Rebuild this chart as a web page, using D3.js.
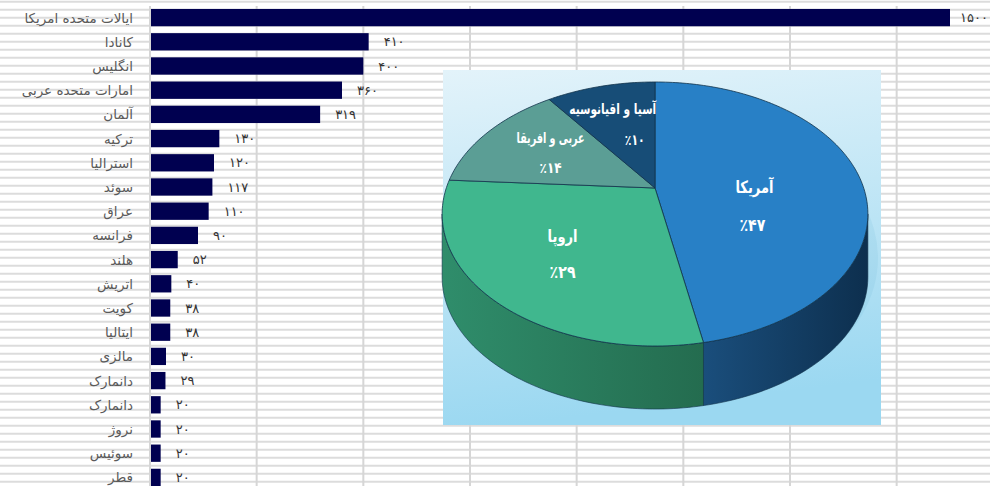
<!DOCTYPE html>
<html><head><meta charset="utf-8">
<script src="https://cdn.jsdelivr.net/npm/d3@7"></script>
<style>
html,body{margin:0;padding:0;background:#fff;}
svg{display:block;}
</style></head>
<body>
<svg id="c" width="990" height="486"></svg>
<script>
// ---- data ----
const countries = ["ایالات متحده امریکا","کانادا","انگلیس","امارات متحده عربی","آلمان","ترکیه","استرالیا","سوئد","عراق","فرانسه","هلند","اتریش","کویت","ایتالیا","مالزی","دانمارک","دانمارک","نروژ","سوئیس","قطر"];
const counts = [1500,410,400,360,319,130,120,117,110,90,52,40,38,38,30,29,20,20,20,20];
const gridTicks = [0,200,400,600,800,1000,1200,1400];
const regions = ["آمریکا","اروپا","عربی و افریقا","آسیا و اقیانوسیه"];
const regionShares = [47,29,14,10];
const regionTop = ["#2880c6","#40b78e","#5b9e95","#174d77"];
const regionSideA = ["#1a4e7c","#2f8d6b","#4a8780","#123e62"];
const regionSideB = ["#0d2f4e","#246c4f","#3b6f69","#0d2f4e"];

const faDigits = s => String(s).replace(/\d/g, d => "۰۱۲۳۴۵۶۷۸۹"[d]);

const W = 990, H = 486;
const svg = d3.select("#c");

const x = d3.scaleLinear().domain([0,1500]).range([150,950]);
const y = d3.scaleBand().domain(d3.range(countries.length)).range([5.5, 489.5]).paddingInner(0.285).paddingOuter(0.1425);

// spreadsheet background lines
svg.append("g").selectAll("line").data(d3.range(1.7, H, 8)).join("line")
  .attr("x1",0).attr("x2",W).attr("y1",d=>d).attr("y2",d=>d)
  .attr("stroke","#dcdcdc").attr("stroke-width",2);
svg.append("g").selectAll("line").data(gridTicks).join("line")
  .attr("x1",d=>x(d)).attr("x2",d=>x(d)).attr("y1",6).attr("y2",H)
  .attr("stroke","#d6d6d6").attr("stroke-width",2);

// bars
svg.append("g").selectAll("rect").data(counts).join("rect")
  .attr("x", x(0)+1).attr("y",(d,i)=>y(i))
  .attr("width", d=>x(d)-x(0)-1).attr("height", y.bandwidth())
  .attr("fill","#000050");

// country labels
svg.append("g").selectAll("text").data(countries).join("text")
  .attr("x",133).attr("y",(d,i)=>y(i)+y.bandwidth()/2)
  .attr("text-anchor","end").attr("dominant-baseline","central")
  .style("font-family","'DejaVu Sans'").style("font-size","13.5px").attr("fill","#5a5a5a")
  .text(d=>d);

// value labels
svg.append("g").selectAll("text").data(counts).join("text")
  .attr("x",d=>x(d)+ (d>=1500?10:15)).attr("y",(d,i)=>y(i)+y.bandwidth()/2)
  .attr("text-anchor","start").attr("dominant-baseline","central")
  .style("font-family","'DejaVu Sans'").style("font-size","13px").attr("fill","#333")
  .text(d=>faDigits(d));

// ---- pie panel ----
const defs = svg.append("defs");
const bg = defs.append("linearGradient").attr("id","panelbg").attr("x1",0).attr("y1",0).attr("x2",0.15).attr("y2",1);
bg.append("stop").attr("offset","0").attr("stop-color","#e3f3fa");
bg.append("stop").attr("offset","1").attr("stop-color","#9bd8f1");
svg.append("rect").attr("x",443).attr("y",70).attr("width",438).attr("height",355).attr("fill","url(#panelbg)");

const pcx = 655, pcy = 188, A = 208.7, B = 126.9, e = 0.197, depth = 63;
function proj(a, r=1){
  const u = Math.sin(a)*r, v = Math.cos(a)*r;
  const k = 1/(1+e*v);
  return [pcx + A*u*k, pcy - B*v*k];
}
const arcs = d3.pie().sort(null).value(d=>d)(regionShares);
const aR = Math.acos(-e), aL = 2*Math.PI - aR;

function rimPts(s, t){
  const n = Math.max(2, Math.ceil((t-s)/0.02));
  return d3.range(n+1).map(i => proj(s + (t-s)*i/n));
}
const line = d3.line();

// soft shadow under the pie
svg.append("ellipse").attr("cx",pcx+8).attr("cy",pcy+70).attr("rx",215).attr("ry",150)
  .attr("fill","#5aa9cf").attr("opacity",0.12);

// sides
arcs.forEach((a,i)=>{
  const s = Math.max(a.startAngle, aR), t = Math.min(a.endAngle, aL);
  if (t <= s) return;
  const top = rimPts(s,t);
  const bot = top.map(p=>[p[0], p[1]+depth]).reverse();
  const gid = "side"+i;
  const g = defs.append("linearGradient").attr("id",gid).attr("gradientUnits","userSpaceOnUse")
    .attr("x1", d3.min(top,p=>p[0])).attr("x2", d3.max(top,p=>p[0])).attr("y1",0).attr("y2",0);
  g.append("stop").attr("offset","0").attr("stop-color",regionSideA[i]);
  g.append("stop").attr("offset","1").attr("stop-color",regionSideB[i]);
  svg.append("path").attr("d", line(top.concat(bot))+"Z").attr("fill","url(#"+gid+")")
    .attr("stroke","#10304a").attr("stroke-width",0.6);
});

// tops
const centroids = [];
arcs.forEach((a,i)=>{
  const pts = [[pcx,pcy]].concat(rimPts(a.startAngle, a.endAngle));
  centroids.push(d3.polygonCentroid(pts));
  svg.append("path").attr("d", line(pts)+"Z").attr("fill",regionTop[i])
    .attr("stroke","#12324a").attr("stroke-width",0.8).attr("stroke-linejoin","round");
});

// labels
const nameLen = [38,30,68,87];
const pctLen = [26,26,22,20];
const nameNudge = [[2,0],[-11,-4],[6,0],[-6,4]];
const pctNudge  = [[0,0],[-11,-6],[6,-2],[16,3]];
arcs.forEach((a,i)=>{
  const p = centroids[i];
  const g = svg.append("g").attr("transform",`translate(${p[0]},${p[1]})`)
    .style("font-family","'DejaVu Sans Condensed','DejaVu Sans'").style("font-weight","bold").attr("fill","#fff");
  const big = i<2;
  g.append("text").attr("x",nameNudge[i][0]).attr("y", (big?-19:-16)+nameNudge[i][1])
    .attr("text-anchor","middle").attr("dominant-baseline","central")
    .style("font-size", big?"17px":"15px").attr("textLength",nameLen[i]).attr("lengthAdjust","spacingAndGlyphs")
    .text(regions[i]);
  g.append("text").attr("x",pctNudge[i][0]).attr("y", (big?19:16)+pctNudge[i][1])
    .attr("text-anchor","middle").attr("dominant-baseline","central")
    .style("font-size", big?"17px":"15px").attr("textLength",pctLen[i]).attr("lengthAdjust","spacingAndGlyphs")
    .text("٪"+faDigits(regionShares[i]));
});
</script>
</body></html>
